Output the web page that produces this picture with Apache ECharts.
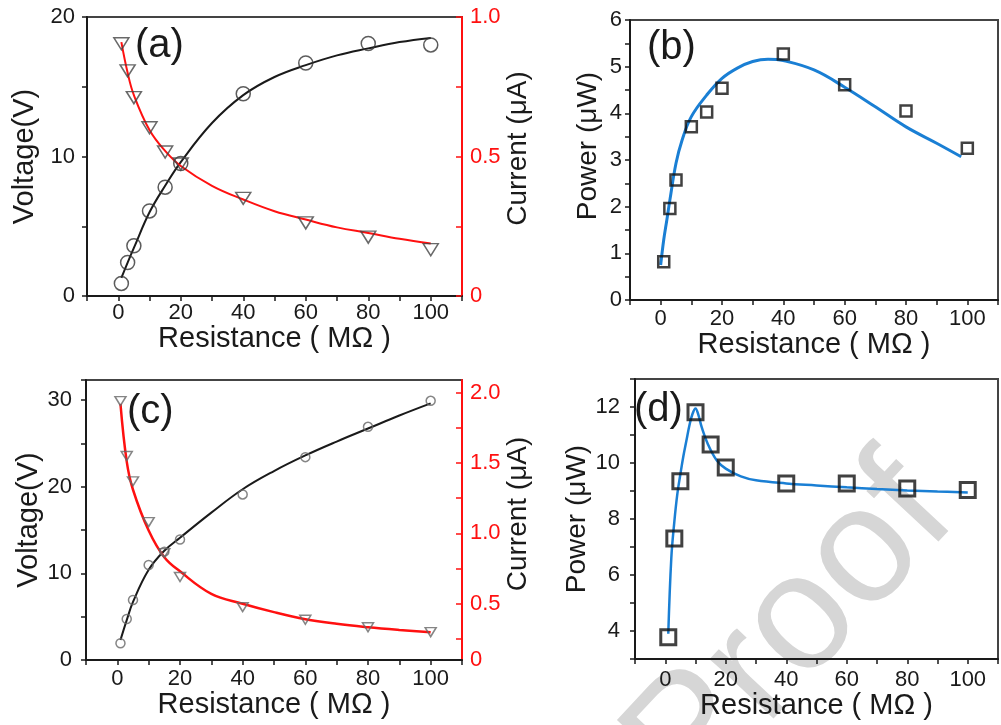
<!DOCTYPE html>
<html>
<head>
<meta charset="utf-8">
<title>Voltage, current and power vs load resistance</title>
<script src="https://cdn.jsdelivr.net/npm/echarts@6/dist/echarts.min.js"></script>
<style>
  html, body { margin: 0; padding: 0; background: #fff; }
  #chart { width: 1001px; height: 725px; }
</style>
</head>
<body>
<div id="chart"></div>
<script>
// load resistances (MΩ) used for the measured points in every panel
const resistance = [1, 3, 5, 10, 15, 20, 40, 60, 80, 100]

// (a) measured voltage (V) and current (μA)
const voltageA = [0.9, 2.4, 3.6, 6.1, 7.8, 9.5, 14.5, 16.7, 18.1, 18.0]
const currentA = [0.904, 0.807, 0.711, 0.603, 0.516, 0.473, 0.35, 0.262, 0.211, 0.166]
// (a) fitted curves
const fitResA = [1, 3, 5, 10, 15, 20, 30, 40, 50, 60, 70, 80, 90, 100]
const voltageFitA = [1.3, 2.4, 3.45, 6.0, 7.9, 9.6, 12.4, 14.4, 15.7, 16.55, 17.25, 17.75, 18.2, 18.5]
const currentFitA = [0.91, 0.80, 0.72, 0.595, 0.52, 0.466, 0.395, 0.346, 0.304, 0.274, 0.246, 0.226, 0.205, 0.188]

// (b) power (μW)
const powerB = [0.82, 1.96, 2.57, 3.71, 4.03, 4.54, 5.27, 4.61, 4.05, 3.25]
const fitResB = [0, 1, 2, 3, 5, 7, 10, 15, 20, 25, 30, 35, 40, 50, 60, 70, 80, 90, 98]
const powerFitB = [0.75, 1.29, 1.71, 2.14, 2.93, 3.43, 3.93, 4.39, 4.75, 4.97, 5.11, 5.16, 5.13, 4.93, 4.56, 4.14, 3.71, 3.36, 3.07]

// (c) measured voltage (V) and current (μA)
const voltageC = [1.93, 4.73, 6.92, 10.96, 12.5, 13.9, 19.1, 23.4, 26.9, 29.9]
const currentC = [1.94, 1.55, 1.37, 1.08, 0.86, 0.69, 0.476, 0.386, 0.333, 0.298]
const fitResC = [1, 3, 5, 10, 15, 20, 30, 40, 50, 60, 70, 80, 90, 100]
const voltageFitC = [2.3, 4.6, 6.7, 10.4, 12.6, 14.1, 17.0, 19.7, 21.8, 23.6, 25.2, 26.7, 28.2, 29.6]
const currentFitC = [1.92, 1.51, 1.31, 1.02, 0.83, 0.73, 0.57, 0.5, 0.44, 0.39, 0.357, 0.333, 0.314, 0.298]

// (d) power (μW)
const powerD = [3.78, 7.3, 9.35, 11.81, 10.66, 9.84, 9.27, 9.27, 9.09, 9.04]
const fitResD = [1, 2, 3, 4, 5, 6, 7, 8, 9, 10, 11, 12, 14, 17, 20, 25, 30, 40, 50, 60, 70, 80, 90, 100]
const powerFitD = [3.9, 6.6, 7.9, 8.9, 9.6, 10.25, 10.8, 11.35, 11.75, 11.95, 11.7, 11.3, 10.7, 10.1, 9.8, 9.52, 9.38, 9.27, 9.2, 9.13, 9.07, 9.02, 8.98, 8.95]

// tick labels
const xTickLabels = [0, 20, 40, 60, 80, 100]
const currentTicksC = [0.25, 0.5, 0.75, 1.0, 1.25, 1.5, 1.75, 2.0]
// the original prints its "0" on the bottom edge, which sits at about 0.1 on this scale
const currentLabelsC = [0.1, 0.5, 1.0, 1.5, 2.0]

const font = 'Liberation Sans, Arial, sans-serif'
const ink = '#1a1a1a'
const red = '#ff1010'
const blue = '#1a7fd4'

const pairs = (xs, ys) => xs.map((x, i) => [x, ys[i]])

function resistanceAxis(gridIndex, labelMargin, nameGap) {
  return {
    type: 'value',
    gridIndex,
    min: -10,
    max: 110,
    interval: 10,
    name: 'Resistance ( MΩ )',
    nameLocation: 'middle',
    nameGap,
    nameTextStyle: { fontFamily: font, fontSize: 29, color: ink },
    axisLine: { onZero: false, lineStyle: { color: ink, width: 2 } },
    axisTick: { length: 5, lineStyle: { color: ink, width: 1.5 } },
    axisLabel: {
      margin: labelMargin,
      fontFamily: font,
      fontSize: 22,
      color: ink,
      formatter: v => (xTickLabels.includes(v) ? String(v) : '')
    },
    splitLine: { show: false }
  }
}

function leftAxis(gridIndex, opts) {
  return Object.assign({
    type: 'value',
    gridIndex,
    position: 'left',
    nameLocation: 'middle',
    nameRotate: 90,
    nameTextStyle: { fontFamily: font, fontSize: 29, color: ink },
    axisLine: { show: true, onZero: false, lineStyle: { color: ink, width: 2 } },
    axisTick: { show: true, length: 5, lineStyle: { color: ink, width: 1.5 } },
    splitLine: { show: false }
  }, opts)
}

function currentAxis(gridIndex, opts) {
  return Object.assign({
    type: 'value',
    gridIndex,
    position: 'right',
    name: 'Current (μA)',
    nameLocation: 'middle',
    nameRotate: 90,
    nameGap: 40,
    axisLine: { show: true, onZero: false, lineStyle: { color: red, width: 2 } },
    splitLine: { show: false }
  }, opts)
}

const labelStyle = (margin, formatter) => ({ margin, fontFamily: font, fontSize: 22, color: ink, formatter })

const grid = [
  { left: 87, top: 17, width: 375, height: 279 },
  { left: 630, top: 20, width: 376, height: 280 },
  { left: 86, top: 380, width: 376, height: 280 },
  { left: 635, top: 379, width: 373, height: 280 }
].map(g => Object.assign(g, { show: true, borderColor: '#444', borderWidth: 2, backgroundColor: 'transparent' }))

const xAxis = [
  resistanceAxis(0, 6, 27),
  resistanceAxis(1, 8, 28),
  resistanceAxis(2, 8, 26),
  resistanceAxis(3, 10, 26)
]

const yAxis = [
  // (a) voltage
  leftAxis(0, {
    min: 0, max: 20, interval: 5,
    name: 'Voltage(V)', nameGap: 48,
    axisLabel: labelStyle(12, v => (v % 10 === 0 ? String(v) : ''))
  }),
  // (a) current
  currentAxis(0, {
    min: 0, max: 1, interval: 0.25,
    nameTextStyle: { fontFamily: font, fontSize: 28, color: ink, padding: [0, 0, 0, 16] },
    axisTick: { inside: true, length: 6, lineStyle: { color: red, width: 1.5 } },
    axisLabel: {
      margin: 8, fontFamily: font, fontSize: 22, color: red,
      formatter: v => (v === 0 ? '0' : v % 0.5 === 0 ? v.toFixed(1) : '')
    }
  }),
  // (b) power
  leftAxis(1, {
    min: 0, max: 6, interval: 0.5,
    name: 'Power (μW)', nameGap: 28,
    nameTextStyle: { fontFamily: font, fontSize: 28, color: ink, padding: [0, 0, 0, 28] },
    axisLabel: labelStyle(8, v => (Number.isInteger(v) ? String(v) : ''))
  }),
  // (c) voltage
  leftAxis(2, {
    min: 0, max: 32.3, interval: 5,
    name: 'Voltage(V)', nameGap: 43,
    axisLabel: labelStyle(14, v => (v % 10 === 0 ? String(v) : ''))
  }),
  // (c) current
  currentAxis(2, {
    min: 0.1, max: 2.09,
    nameTextStyle: { fontFamily: font, fontSize: 28, color: ink, padding: [0, 0, 0, 12] },
    axisTick: { inside: true, length: 6, customValues: currentTicksC, lineStyle: { color: red, width: 1.5 } },
    axisLabel: {
      margin: 8, fontFamily: font, fontSize: 22, color: red,
      customValues: currentLabelsC,
      formatter: v => (v < 0.2 ? '0' : v.toFixed(1))
    }
  }),
  // (d) power
  leftAxis(3, {
    min: 3, max: 13, interval: 1,
    name: 'Power (μW)', nameGap: 36,
    nameTextStyle: { fontFamily: font, fontSize: 28, color: ink },
    axisLabel: labelStyle(15, v => (v % 2 === 0 && v >= 4 && v <= 12 ? String(v) : ''))
  })
]

const hollow = color => ({ color: 'rgba(0,0,0,0)', borderColor: color, borderWidth: 1.5 })

function fitLine(xIndex, yIndex, xs, ys, color, width) {
  return {
    type: 'line',
    xAxisIndex: xIndex,
    yAxisIndex: yIndex,
    data: pairs(xs, ys),
    smooth: 0.4,
    showSymbol: false,
    lineStyle: { color, width },
    z: 3
  }
}

function points(xIndex, yIndex, ys, symbol, size, style, rotate) {
  return {
    type: 'scatter',
    xAxisIndex: xIndex,
    yAxisIndex: yIndex,
    data: pairs(resistance, ys),
    symbol,
    symbolSize: size,
    symbolRotate: rotate || 0,
    itemStyle: style,
    z: 4
  }
}

const series = [
  // (a)
  fitLine(0, 0, fitResA, voltageFitA, ink, 2),
  fitLine(0, 1, fitResA, currentFitA, red, 2),
  points(0, 0, voltageA, 'circle', 14, hollow('#333')),
  points(0, 1, currentA, 'triangle', [15, 12], hollow('#444'), 180),
  // (b)
  fitLine(1, 2, fitResB, powerFitB, blue, 3),
  points(1, 2, powerB, 'rect', 11, { color: 'rgba(0,0,0,0)', borderColor: '#111', borderWidth: 2.5 }),
  // (c)
  fitLine(2, 3, fitResC, voltageFitC, ink, 2),
  fitLine(2, 4, fitResC, currentFitC, red, 2.5),
  points(2, 3, voltageC, 'circle', 9, hollow('#666')),
  points(2, 4, currentC, 'triangle', [11, 9], hollow('#666'), 180),
  // (d)
  fitLine(3, 5, fitResD, powerFitD, blue, 2.5),
  points(3, 5, powerD, 'rect', 15, { color: 'rgba(0,0,0,0)', borderColor: '#111', borderWidth: 3 })
]

const panelLabel = (text, x, y) => ({
  type: 'text', x, y, z: 10,
  style: { text, fontFamily: font, fontSize: 40, fill: ink, align: 'left', verticalAlign: 'middle' }
})

const graphic = [
  {
    type: 'text',
    x: 792,
    y: 632,
    rotation: 47 * Math.PI / 180,
    z: 0,
    style: { text: 'Proof', fontFamily: font, fontSize: 165, fill: '#d6d6d6', align: 'center', verticalAlign: 'middle' }
  },
  panelLabel('(a)', 135, 46),
  panelLabel('(b)', 647, 48),
  panelLabel('(c)', 127, 412),
  panelLabel('(d)', 634, 410)
]

const myChart = echarts.init(document.getElementById('chart'), null, { renderer: 'canvas' })
myChart.setOption({
  animation: false,
  backgroundColor: '#fff',
  grid,
  xAxis,
  yAxis,
  series,
  graphic
})
</script>
</body>
</html>
